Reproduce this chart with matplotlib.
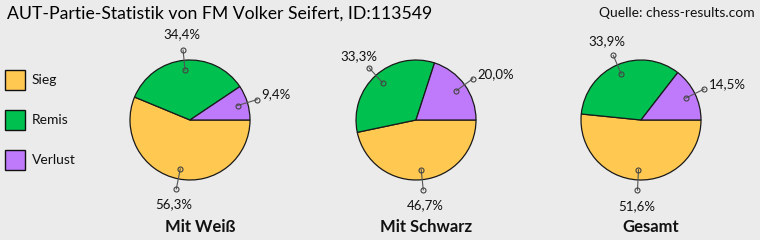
import numpy as np
import matplotlib
matplotlib.use("Agg")
import matplotlib.pyplot as plt
from matplotlib.patches import Rectangle

title = "AUT-Partie-Statistik von FM Volker Seifert, ID:113549"
source = "Quelle: chess-results.com"
categories = ["Sieg", "Remis", "Verlust"]
colors = ["#FFC850", "#00C050", "#BF7AFB"]
groups = ["Mit Weiß", "Mit Schwarz", "Gesamt"]
weiss = [56.3, 34.4, 9.4]
schwarz = [46.7, 33.3, 20.0]
gesamt = [51.6, 33.9, 14.5]
series = [weiss, schwarz, gesamt]

plt.rcParams['font.family'] = ['Lato', 'DejaVu Sans']
BG = "#EBEBEB"
W, H = 760, 240
fig = plt.figure(figsize=(W / 100, H / 100), dpi=100, facecolor=BG)
ax = fig.add_axes([0, 0, 1, 1])
ax.set_facecolor(BG)

centers_x = [190, 416, 641]
cy = 120
R = 60

for vals, cx, name in zip(series, centers_x, groups):
    wedges, _ = ax.pie(vals, colors=colors, startangle=0, counterclock=False,
                       center=(cx, cy), radius=R,
                       wedgeprops=dict(edgecolor="#1a1a1a", linewidth=0.9))
    total = sum(vals)
    ang = 0.0
    for v in vals:
        a0 = ang
        ang -= v / total * 360.0
        mid = np.deg2rad((a0 + ang) / 2)
        c, s = np.cos(mid), np.sin(mid)
        ix, iy = cx + 0.83 * R * c, cy + 0.83 * R * s
        ox, oy = cx + 1.17 * R * c, cy + 1.17 * R * s
        ax.plot([ix, ox], [iy, oy], color="#555555", lw=0.8, zorder=5)
        ax.plot([ix, ox], [iy, oy], 'o', ms=3.6, mfc='none', mec="#444444",
                mew=0.8, zorder=6)
        lab = f"{v:.1f}%".replace(".", ",")
        if c > 0.5:
            ax.text(ox + 4.5, oy + 5, lab, ha='left', va='center',
                    fontsize=9.5, color="#111111")
        else:
            ax.text(cx + 1.43 * R * c, cy + 1.43 * R * s, lab, ha='center',
                    va='center', fontsize=9.5, color="#111111")
    ax.text(cx + 10, 240 - 227, name, ha='center', va='center',
            fontsize=12, fontweight='bold', color="#111111")

# legend
for i, (cat, col) in enumerate(zip(categories, colors)):
    ycen = 240 - (80 + 40 * i)
    ax.add_patch(Rectangle((4.5, ycen - 10), 20, 20, facecolor=col,
                           edgecolor="#111111", lw=1.0))
    ax.text(32, ycen, cat, ha='left', va='center', fontsize=10,
            color="#111111")

ax.text(7, 240 - 13.5, title, ha='left', va='center', fontsize=12.7,
        color="#000000")
ax.text(755, 240 - 13, source, ha='right', va='center', fontsize=10,
        color="#111111")

ax.set_xlim(0, W)
ax.set_ylim(0, H)
ax.set_aspect('auto')
ax.axis('off')
fig.savefig("out.png", dpi=100, facecolor=BG)
